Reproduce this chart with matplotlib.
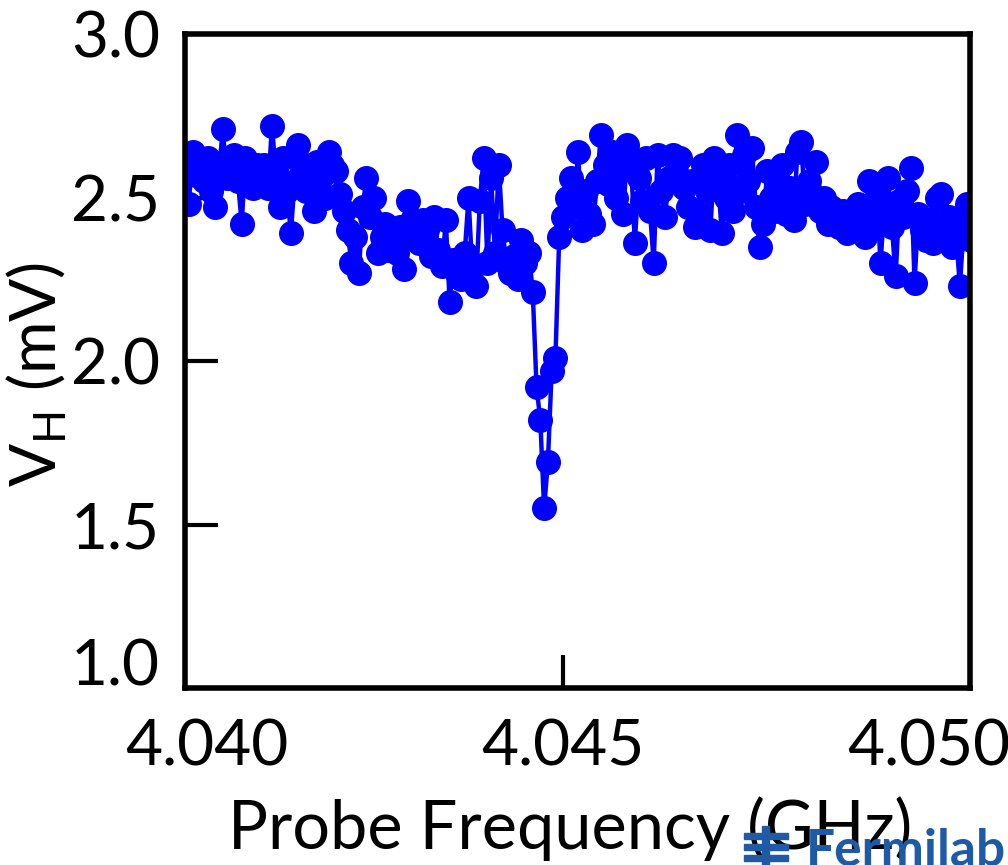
import matplotlib
matplotlib.use('agg')
import matplotlib.pyplot as plt
import matplotlib.transforms as mtransforms
from matplotlib.patches import Rectangle
import numpy as np

plt.rcParams['font.family'] = ['Lato', 'DejaVu Sans']
plt.rcParams['mathtext.fontset'] = 'custom'
plt.rcParams['mathtext.rm'] = 'Lato'

# probe sweep: 4.040 GHz start, 50 kHz steps
f_start = 4.040
f_step = 0.00005

# Hall voltage (mV), 10 points per row
v_hall = [
    2.62, 2.48, 2.64, 2.57, 2.60, 2.55, 2.62, 2.52, 2.47, 2.58,
    2.71, 2.56, 2.60, 2.63, 2.55, 2.42, 2.62, 2.57, 2.53, 2.60,
    2.56, 2.60, 2.53, 2.72, 2.58, 2.47, 2.62, 2.52, 2.39, 2.55,
    2.66, 2.58, 2.52, 2.60, 2.46, 2.61, 2.56, 2.50, 2.64, 2.60,
    2.58, 2.51, 2.46, 2.40, 2.30, 2.38, 2.27, 2.47, 2.56, 2.44,
    2.50, 2.33, 2.38, 2.42, 2.34, 2.38, 2.33, 2.41, 2.28, 2.49,
    2.43, 2.38, 2.36, 2.43, 2.40, 2.32, 2.44, 2.34, 2.29, 2.43,
    2.18, 2.31, 2.27, 2.25, 2.33, 2.50, 2.28, 2.23, 2.49, 2.62,
    2.30, 2.56, 2.33, 2.60, 2.40, 2.30, 2.27, 2.32, 2.25, 2.37,
    2.30, 2.33, 2.21, 1.92, 1.82, 1.55, 1.69, 1.97, 2.01, 2.38,
    2.44, 2.50, 2.56, 2.47, 2.64, 2.40, 2.52, 2.45, 2.42, 2.55,
    2.69, 2.60, 2.54, 2.64, 2.50, 2.58, 2.45, 2.66, 2.61, 2.36,
    2.56, 2.49, 2.62, 2.46, 2.30, 2.63, 2.52, 2.44, 2.56, 2.63,
    2.58, 2.62, 2.53, 2.47, 2.55, 2.41, 2.45, 2.60, 2.52, 2.40,
    2.62, 2.56, 2.39, 2.50, 2.60, 2.46, 2.69, 2.52, 2.63, 2.55,
    2.65, 2.47, 2.35, 2.42, 2.58, 2.50, 2.46, 2.55, 2.60, 2.45,
    2.53, 2.43, 2.64, 2.67, 2.48, 2.55, 2.51, 2.61, 2.46, 2.50,
    2.42, 2.47, 2.44, 2.41, 2.46, 2.39, 2.45, 2.40, 2.48, 2.42,
    2.38, 2.55, 2.43, 2.52, 2.30, 2.47, 2.56, 2.41, 2.26, 2.49,
    2.44, 2.52, 2.59, 2.24, 2.45, 2.40, 2.37, 2.43, 2.36, 2.50,
    2.51, 2.40, 2.44, 2.35, 2.38, 2.23, 2.41, 2.48, 2.37,
]
freq = f_start + f_step * np.arange(len(v_hall))

xticks = [4.040, 4.045, 4.050]
xticklabels = ['4.040', '4.045', '4.050']
yticks = [1.0, 1.5, 2.0, 2.5, 3.0]
yticklabels = ['1.0', '1.5', '2.0', '2.5', '3.0']

fig = plt.figure(figsize=(10.08, 8.65), dpi=100)
ax = fig.add_axes([185 / 1008, 1 - 688 / 865, 785 / 1008, 654 / 865])

ax.plot(freq, v_hall, '-o', color='#0000ff', lw=3.2, ms=17, mec='#0000ff')

ax.set_xlim(4.040, 4.040 + 785 / 378 * 0.005)
ax.set_ylim(1.0, 3.0)

ax.set_xticks(xticks)
ax.set_xticklabels(xticklabels)
ax.set_yticks(yticks)
ax.set_yticklabels(yticklabels)
ax.tick_params(axis='both', direction='in', length=24, width=3, labelsize=46)
ax.tick_params(axis='x', pad=22)
ax.tick_params(axis='y', pad=18)

# edge ticks sit on the frame
for t in [ax.xaxis.get_major_ticks()[0], ax.xaxis.get_major_ticks()[2],
          ax.yaxis.get_major_ticks()[0], ax.yaxis.get_major_ticks()[4]]:
    t.tick1line.set_visible(False)

# nudge edge labels inward like the original
xl = ax.get_xticklabels()
xl[0].set_transform(xl[0].get_transform() + mtransforms.ScaledTranslation(22 / 100, 0, fig.dpi_scale_trans))
xl[2].set_transform(xl[2].get_transform() + mtransforms.ScaledTranslation(-12 / 100, 0, fig.dpi_scale_trans))
yl = ax.get_yticklabels()
yl[0].set_transform(yl[0].get_transform() + mtransforms.ScaledTranslation(0, 26 / 100, fig.dpi_scale_trans))

for s in ax.spines.values():
    s.set_linewidth(4)

ax.set_xlabel('Probe Frequency (GHz)', fontsize=48)
ax.xaxis.set_label_coords(0.49, -0.165)
ax.set_ylabel(r'V$_\mathregular{H}$ (mV)', fontsize=46)
ax.yaxis.set_label_coords(-0.148, 0.48)

# Fermilab logo in the corner
blue = '#1f5aa6'
fig.text(1006 / 1008, 1 - 866 / 865, 'Fermilab', color=blue, fontsize=37,
         fontweight='bold', ha='right', va='baseline')
for yy in [834, 845, 856]:
    fig.add_artist(Rectangle((744 / 1008, 1 - (yy + 5) / 865), 44 / 1008, 6 / 865,
                             transform=fig.transFigure, color=blue))
fig.add_artist(Rectangle((762 / 1008, 1 - 866 / 865), 7 / 1008, 40 / 865,
                         transform=fig.transFigure, color=blue))

fig.savefig('out.png', dpi=100)
